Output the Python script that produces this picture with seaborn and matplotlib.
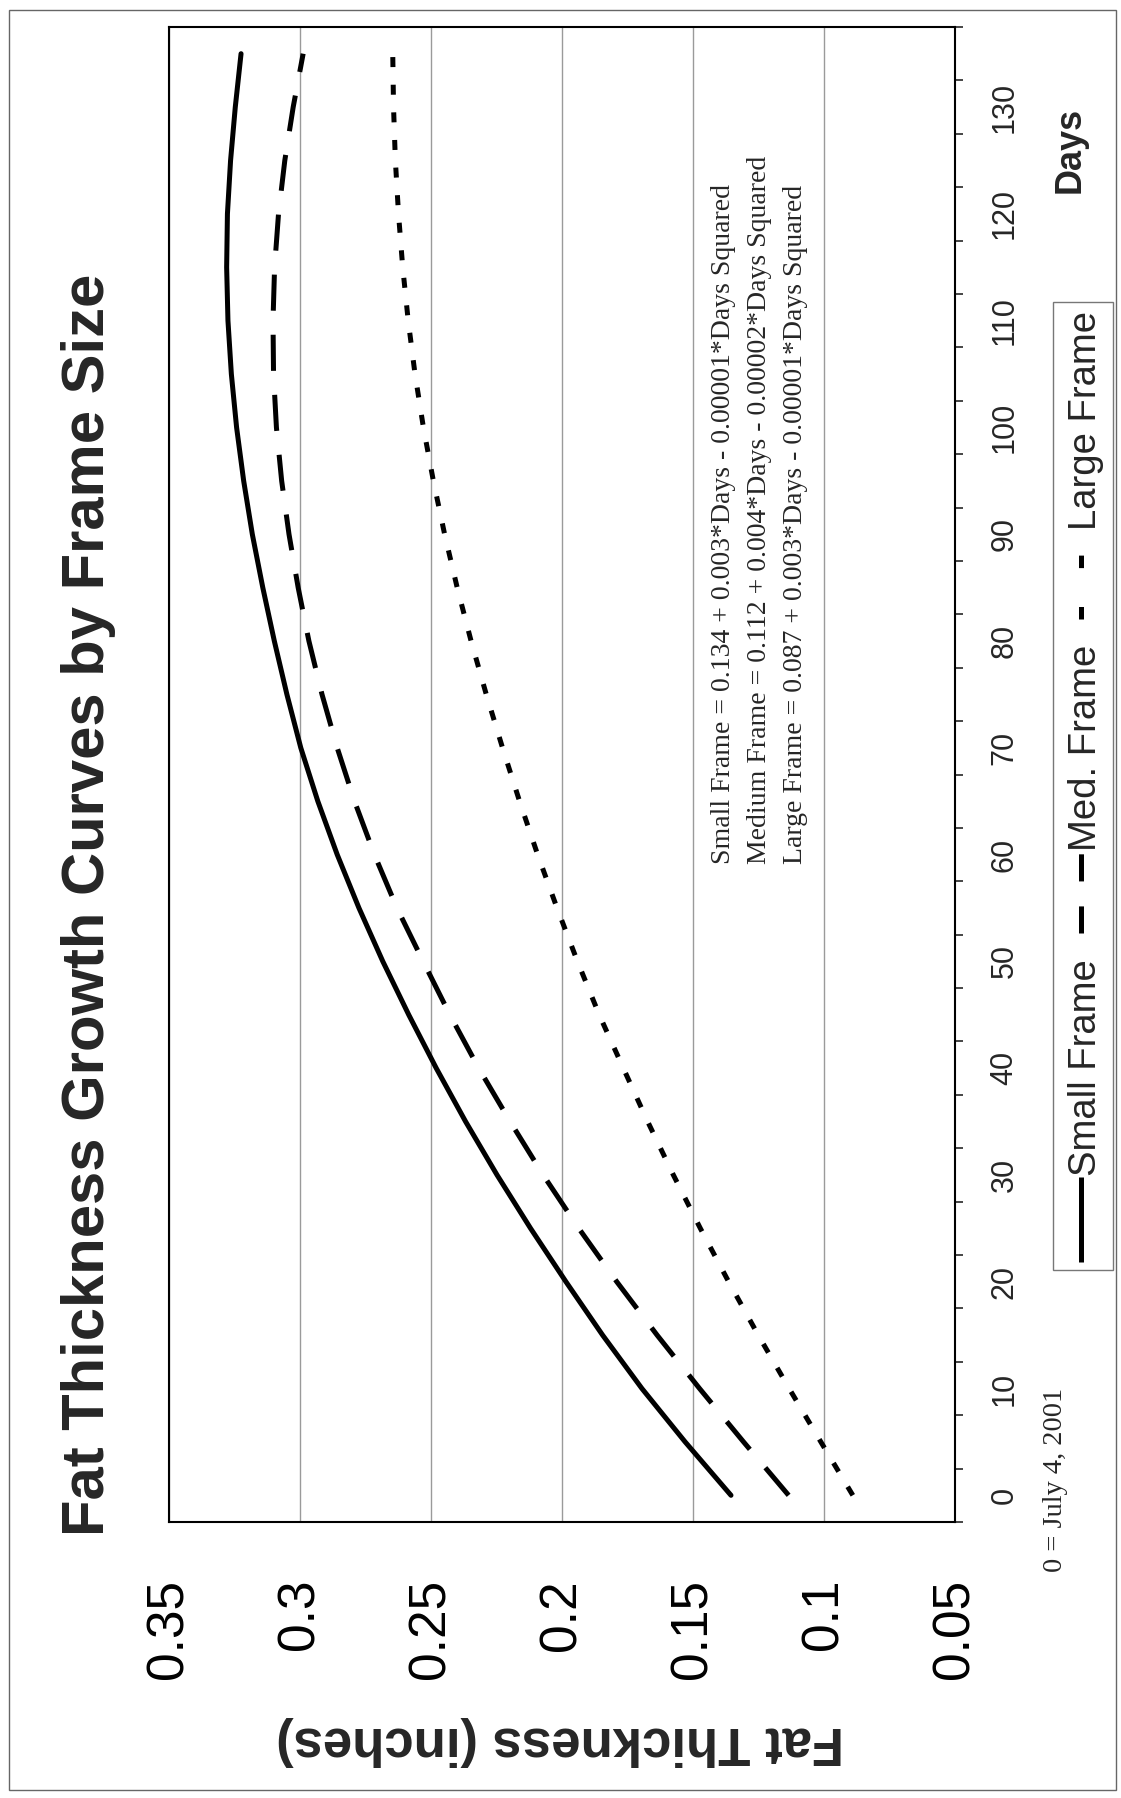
import numpy as np
import pandas as pd
import matplotlib
matplotlib.use('Agg')
import matplotlib.pyplot as plt
import seaborn as sns
from matplotlib.patches import Rectangle
from matplotlib.lines import Line2D

# datos (dias cada 5, espesor en pulgadas)
days = [0, 5, 10, 15, 20, 25, 30, 35, 40, 45, 50, 55, 60, 65,
        70, 75, 80, 85, 90, 95, 100, 105, 110, 115, 120, 125, 130, 135]
small_frame = [0.1355, 0.1530, 0.1695, 0.1845, 0.1985, 0.2120, 0.2248, 0.2368, 0.2480, 0.2585,
               0.2684, 0.2775, 0.2858, 0.2932, 0.2997, 0.3050, 0.3098, 0.3142, 0.3182, 0.3215,
               0.3242, 0.3262, 0.3275, 0.3280, 0.3277, 0.3265, 0.3247, 0.3225]
medium_frame = [0.1135, 0.1307, 0.1475, 0.1637, 0.1791, 0.1936, 0.2072, 0.2198, 0.2318, 0.2428,
                0.2530, 0.2630, 0.2716, 0.2792, 0.2858, 0.2916, 0.2966, 0.3007, 0.3042, 0.3070,
                0.3090, 0.3101, 0.3103, 0.3097, 0.3082, 0.3058, 0.3026, 0.2988]
large_frame = [0.0890, 0.1012, 0.1133, 0.1251, 0.1364, 0.1472, 0.1575, 0.1673, 0.1766, 0.1858,
               0.1941, 0.2019, 0.2093, 0.2162, 0.2227, 0.2289, 0.2347, 0.2400, 0.2448, 0.2491,
               0.2529, 0.2561, 0.2587, 0.2608, 0.2624, 0.2636, 0.2643, 0.2646]

frames = ['Small Frame', 'Med. Frame', 'Large Frame']
thickness_ticks = [0.35, 0.3, 0.25, 0.2, 0.15, 0.1, 0.05]
thickness_labels = ['0.35', '0.3', '0.25', '0.2', '0.15', '0.1', '0.05']
day_ticks = [0, 10, 20, 30, 40, 50, 60, 70, 80, 90, 100, 110, 120, 130]
equations = ['Small Frame = 0.134 + 0.003*Days - 0.00001*Days Squared',
             'Medium Frame = 0.112 + 0.004*Days - 0.00002*Days Squared',
             'Large Frame = 0.087 + 0.003*Days - 0.00001*Days Squared']

sns.set_style('white')
plt.rcParams['font.family'] = ['Liberation Sans', 'DejaVu Sans']
plt.rcParams['lines.scale_dashes'] = False

W, H = 1121, 1798
fig = plt.figure(figsize=(W / 100, H / 100), dpi=100)


def fx(px):
    return px / W


def fy(py):
    return 1 - py / H


ax = fig.add_axes([fx(169), fy(1522), (955 - 169) / W, (1522 - 27) / H])

df = pd.DataFrame({
    'Days': days * 3,
    'Thickness': small_frame + medium_frame + large_frame,
    'Frame': [frames[0]] * len(days) + [frames[1]] * len(days) + [frames[2]] * len(days),
})
line_dashes = {frames[0]: '', frames[1]: (26, 17.3), frames[2]: (7.2, 12.7)}

# el grafico original esta girado 90 grados: espesor en horizontal, dias en vertical
sns.lineplot(data=df, x='Thickness', y='Days', style='Frame', dashes=line_dashes,
             color='black', lw=3.6, sort=False, estimator=None, orient='y',
             legend=False, ax=ax)

ax.set_xlim(0.35, 0.05)
ax.set_ylim(-2.5, 137.5)
ax.set_xlabel('')
ax.set_ylabel('')

ax.set_xticks(thickness_ticks, thickness_labels, rotation=90, fontsize=37)
ax.tick_params(axis='x', direction='out', length=10, width=1.2, pad=31, colors='black')
ax.xaxis.grid(True, color='#9a9a9a', lw=1)
ax.yaxis.grid(False)

ax.yaxis.tick_right()
ax.set_yticks(day_ticks, [str(d) for d in day_ticks], rotation=90, fontsize=22, va='center')
ax.set_yticks([d - 2.5 for d in days] + [days[-1] + 2.5], minor=True)
ax.tick_params(axis='y', which='major', length=0, pad=25)
ax.tick_params(axis='y', which='minor', length=6, width=1.2, direction='out',
               right=True, left=False)

for s in ax.spines.values():
    s.set_color('black')
    s.set_linewidth(1.5)

# textos
fig.text(fx(104), fy(905), 'Fat Thickness Growth Curves by Frame Size', rotation=90,
         rotation_mode='anchor', ha='center', va='baseline', fontsize=43, fontweight='bold')
fig.text(fx(560), fy(1727), 'Fat Thickness (inches)', rotation=180,
         rotation_mode='anchor', ha='center', va='baseline', fontsize=38, fontweight='bold')
fig.text(fx(1080), fy(150), 'Days', rotation=90, rotation_mode='anchor',
         ha='center', va='baseline', fontsize=26, fontweight='bold')
for i, eq in enumerate(equations):
    fig.text(fx(730 + 36 * i), fy(864), eq, rotation=90, rotation_mode='anchor',
             ha='left', va='baseline', fontsize=20, family='Liberation Serif')
fig.text(fx(1062), fy(1572), '0 = July 4, 2001', rotation=90, rotation_mode='anchor',
         ha='left', va='baseline', fontsize=20.5, family='Liberation Serif')

# leyenda girada hecha a mano
fig.add_artist(Rectangle((fx(1053), fy(1270)), (1113 - 1053) / W, (1270 - 302) / H,
                         transform=fig.transFigure, fill=False, edgecolor='#777777', lw=1))
fig.add_artist(Line2D([fx(1081), fx(1081)], [fy(1262), fy(1177)], transform=fig.transFigure,
                      color='black', lw=3.6, solid_capstyle='butt'))
fig.add_artist(Line2D([fx(1081), fx(1081)], [fy(933), fy(853)], transform=fig.transFigure,
                      color='black', lw=3.6, dashes=(19.5, 18)))
fig.add_artist(Line2D([fx(1081), fx(1081)], [fy(619), fy(551)], transform=fig.transFigure,
                      color='black', lw=3.6, dashes=(9, 28)))
for label, yc in zip(frames, [1068, 748, 421]):
    fig.text(fx(1096), fy(yc), label, rotation=90, rotation_mode='anchor',
             ha='center', va='baseline', fontsize=27.5)

# marco exterior del area del grafico
fig.add_artist(Rectangle((fx(9), fy(1790)), (1116 - 9) / W, (1790 - 10) / H,
                         transform=fig.transFigure, fill=False, edgecolor='#666666', lw=1))

fig.savefig('out.png', dpi=100)
plt.close()
